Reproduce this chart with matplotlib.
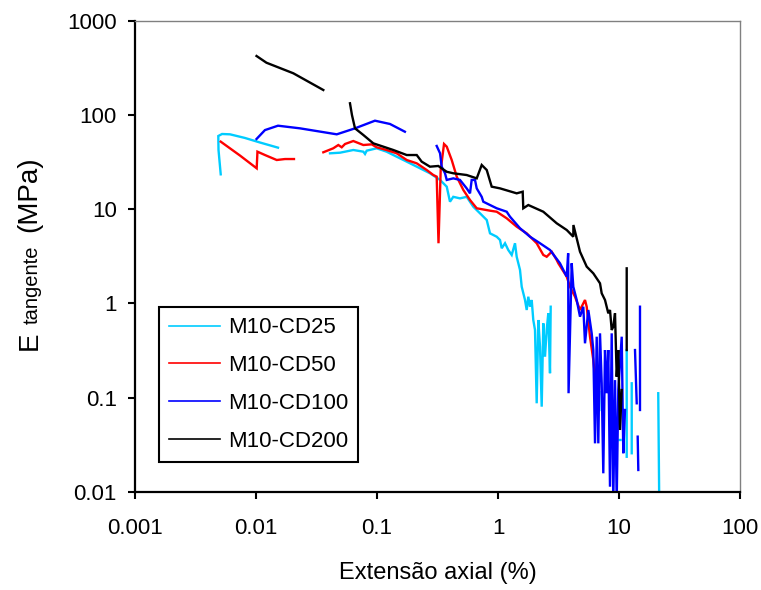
import numpy as np
import matplotlib
matplotlib.use("Agg")
import matplotlib.pyplot as plt
from matplotlib.lines import Line2D
from matplotlib.ticker import FixedLocator, FixedFormatter, NullLocator

nan = np.nan

# ---------------- data ----------------
series_names = ["M10-CD25", "M10-CD50", "M10-CD100", "M10-CD200"]
series_colors = ["#00CCFF", "#FF0000", "#0000FF", "#000000"]

x_ticks = [0.001, 0.01, 0.1, 1, 10, 100]
x_tick_labels = ["0.001", "0.01", "0.1", "1", "10", "100"]
y_ticks = [0.01, 0.1, 1, 10, 100, 1000]
y_tick_labels = ["0.01", "0.1", "1", "10", "100", "1000"]

cd25_x = [0.00511, 0.00490, 0.00488, 0.00524, 0.00610, 0.00811, 0.0108, 0.0152, nan,
          0.0409, 0.0495, 0.0637, 0.0771, 0.0796, 0.0822, 0.0994, 0.120, 0.1455, 0.176,
          0.227, 0.274, 0.332, 0.377, 0.401, 0.427, 0.485, 0.551, 0.625, 0.710, 0.807,
          0.859, 0.976, 1.039, 1.073, 1.143, 1.216, 1.298, 1.382, 1.427, 1.520, 1.570,
          1.672, 1.727, 1.780, 1.839, 1.899, 1.957, 2.022, 2.088, 2.154, 2.224, 2.297,
          2.368, 2.446, 2.526, 2.604, 2.690, 2.726, nan,
          7.194, 7.194, nan, 10.1, 10.3, nan, 11.58, 11.58, nan, 12.74, 12.74, nan,
          21.1, 21.5]
cd25_y = [23.4, 42.4, 59.7, 62.7, 62.2, 56.9, 50.9, 44.9, nan,
          39.1, 39.7, 42.4, 40.7, 38.5, 41.7, 44.2, 40.7, 36.0, 31.9,
          27.1, 24.0, 20.4, 17.3, 11.98, 13.5, 13.0, 13.5, 10.6, 9.02, 7.66,
          5.53, 5.09, 4.70, 3.84, 4.34, 3.68, 3.26, 4.34, 3.12, 2.26, 1.50,
          1.084, 0.849, 1.175, 0.920, 1.084, 0.665, 0.521, 0.0868, 0.665, 0.346, 0.0799,
          0.613, 0.271, 0.521, 0.783, 0.181, 0.920, nan,
          0.114, 0.0737, nan, 0.0354, 0.0354, nan, 0.319, 0.0235, nan, 0.1415, 0.0256, nan,
          0.111, 0.008]

cd50_x = [0.00511, 0.00738, 0.01013, 0.01028, 0.01186, 0.01483, 0.01737, 0.0206, nan,
          0.0360, 0.0435, 0.0479, 0.0511, 0.0544, 0.0637, 0.0771, 0.0904, 0.0994, 0.120,
          0.1455, 0.176, 0.213, 0.2575, 0.292, 0.3114, 0.3223, 0.336, 0.358, 0.377,
          0.4145, 0.456, 0.517, 0.587, 0.667, 0.859, 0.976, 1.180, 1.427, 1.727, 2.088,
          2.368, 2.526, 2.779, 3.056, 3.150, 3.697, 3.936, 4.329, 4.761, 5.236, 5.409,
          5.758, 6.133, 6.335]
cd50_y = [52.0, 37.0, 27.1, 40.7, 37.5, 33.2, 34.0, 34.0, nan,
          40.1, 44.2, 47.9, 45.3, 49.1, 52.8, 47.9, 48.7, 45.3, 42.4,
          39.1, 33.2, 30.6, 26.0, 23.0, 22.1, 4.34, 26.0, 49.1, 46.0,
          33.2, 22.1, 15.95, 12.49, 10.2, 9.62, 9.38, 7.99, 6.51, 5.53, 4.34,
          3.26, 3.12, 3.53, 2.88, 2.66, 1.92, 1.50, 1.175, 0.849, 1.084, 0.920,
          0.442, 0.250, 0.166]

cd100_x = [0.0101, 0.01186, 0.0152, 0.0231, 0.0465, 0.0658, 0.0962, 0.128, 0.170, nan,
           0.3114, 0.332, 0.3425, 0.3648, 0.377, 0.427, 0.485, 0.551, 0.587, 0.606,
           0.6455, 0.667, 0.7335, 0.756, 0.859, 0.976, 1.180, 1.256, 1.520, 1.839,
           2.224, 2.690, 3.253, 3.697, 3.80, 3.83, 4.066, 4.191, 4.471, 4.761, 5.070,
           5.236, 5.577, 5.948, 6.133, 6.335, 6.543, 6.745, 6.966, 7.194, 7.417, 7.662,
           7.913, 8.157, 8.425, 8.703, 8.973, 9.268, 9.572, 9.867, 10.53, 10.85, 11.21, nan,
           13.56, 14.01, nan, 14.27, 14.44, nan, 14.91, 14.91]
cd100_y = [55.5, 69.0, 76.8, 72.0, 62.2, 72.0, 86.8, 80.1, 66.3, nan,
           46.8, 39.1, 28.2, 24.0, 20.4, 21.2, 20.4, 16.6, 14.7, 20.4,
           20.4, 16.6, 13.5, 11.98, 11.05, 10.2, 9.38, 8.31, 6.26, 5.09,
           4.34, 3.68, 2.66, 1.92, 3.40, 0.111, 2.66, 1.50, 1.084, 0.721, 0.920,
           0.376, 0.849, 0.480, 0.319, 0.0326, 0.442, 0.0326, 0.480, 0.1415, 0.01568, 0.319,
           0.111, 0.319, 0.0113, 0.480, 0.008, 0.153, 0.008, 0.120, 0.442, 0.0256, 0.0737, nan,
           0.319, 0.0868, nan, 0.0384, 0.0170, nan, 0.920, 0.0737]

cd200_x = [0.0101, 0.0122, 0.02034, 0.0360, nan,
           0.0598, 0.0621, 0.0658, 0.0771, 0.0932, 0.1128, 0.1364, 0.176, 0.213, 0.234,
           0.274, 0.321, 0.377, 0.427, 0.551, 0.667, 0.7335, 0.807, 0.887, 1.039, 1.427,
           1.600, 1.618, 1.780, 2.368, 3.056, 3.697, 4.191, 4.20, 4.761, 5.409, 6.133,
           6.966, 7.194, 7.662, 8.157, 8.425, 8.703, 8.973, 9.268, 9.572, 9.867, 10.19,
           10.53, nan,
           11.58, 11.58]
cd200_y = [422.0, 358.0, 276.6, 183.8, nan,
           132.8, 99.7, 72.0, 61.2, 49.9, 46.0, 42.4, 37.5, 37.5, 31.9,
           28.2, 28.7, 24.9, 24.0, 23.0, 21.2, 29.4, 26.0, 17.3, 16.6, 14.7,
           15.3, 10.2, 11.05, 9.38, 7.07, 6.00, 5.09, 6.78, 3.53, 2.45, 2.08,
           1.63, 1.277, 1.084, 0.783, 0.849, 0.521, 0.564, 0.783, 0.166, 0.319, 0.0452,
           0.120, nan,
           2.35, 0.319]

series_x = [cd25_x, cd50_x, cd100_x, cd200_x]
series_y = [cd25_y, cd50_y, cd100_y, cd200_y]

# ---------------- style ----------------
plt.rcParams["font.family"] = ["Liberation Sans", "DejaVu Sans"]

W, H = 761, 590
fig = plt.figure(figsize=(W / 100, H / 100), dpi=100)
ax_left, ax_right, ax_top, ax_bottom = 135, 740, 20.7, 491.7
ax = fig.add_axes([ax_left / W, 1 - ax_bottom / H,
                   (ax_right - ax_left) / W, (ax_bottom - ax_top) / H])

for xs, ys, c, name in zip(series_x, series_y, series_colors, series_names):
    ax.plot(xs, ys, color=c, lw=1.7, solid_joinstyle="miter", label=name)

ax.set_xscale("log")
ax.set_yscale("log")
ax.set_xlim(x_ticks[0], x_ticks[-1])
ax.set_ylim(y_ticks[0], y_ticks[-1])

ax.xaxis.set_major_locator(FixedLocator(x_ticks))
ax.xaxis.set_major_formatter(FixedFormatter(x_tick_labels))
ax.yaxis.set_major_locator(FixedLocator(y_ticks))
ax.yaxis.set_major_formatter(FixedFormatter(y_tick_labels))
ax.xaxis.set_minor_locator(NullLocator())
ax.yaxis.set_minor_locator(NullLocator())

for s in ["left", "bottom"]:
    ax.spines[s].set_color("black")
    ax.spines[s].set_linewidth(1.6)
for s in ["top", "right"]:
    ax.spines[s].set_color("#808080")
    ax.spines[s].set_linewidth(1.0)

ax.tick_params(axis="both", which="major", direction="out", length=5, width=1.5,
               labelsize=16, colors="black", top=False, right=False)
ax.tick_params(axis="x", pad=14)
ax.tick_params(axis="y", pad=8)

ax.set_xlabel("Extensão axial (%)", fontsize=17)
ax.xaxis.set_label_coords(0.5, -0.149)

# y label: E + small "tangente" + (MPa)
fig.text(36.7 / W, 1 - 350 / H, "E", rotation=90, rotation_mode="anchor",
         ha="left", va="baseline", fontsize=20)
fig.text(37.5 / W, 1 - 324.5 / H, "tangente", rotation=90, rotation_mode="anchor",
         ha="left", va="baseline", fontsize=14.5)
fig.text(36.7 / W, 1 - 232 / H, "(MPa)", rotation=90, rotation_mode="anchor",
         ha="left", va="baseline", fontsize=20)

handles = [Line2D([], [], color=c, lw=1.2) for c in series_colors]
leg = ax.legend(handles, series_names, loc="upper left",
                bbox_to_anchor=((159.3 - ax_left) / (ax_right - ax_left),
                                (ax_bottom - 307.3) / (ax_bottom - ax_top)),
                borderaxespad=0, fontsize=16, frameon=True, fancybox=False,
                edgecolor="black", facecolor="white", framealpha=1,
                handlelength=2.3, handletextpad=0.35, labelspacing=0.76,
                borderpad=0.45)
leg.get_frame().set_linewidth(1.5)

fig.savefig("out.png", dpi=100)
